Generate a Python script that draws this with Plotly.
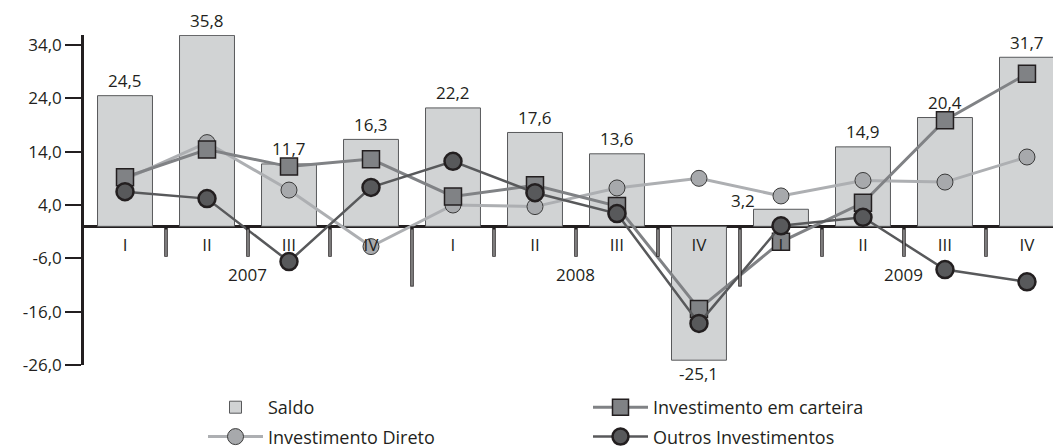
import plotly.graph_objects as go

# ---- data ----
quarters = ["I", "II", "III", "IV", "I", "II", "III", "IV", "I", "II", "III", "IV"]
years = ["2007", "2008", "2009"]
saldo = [24.5, 35.8, 11.7, 16.3, 22.2, 17.6, 13.6, -25.1, 3.2, 14.9, 20.4, 31.7]
inv_direto = [8.8, 15.7, 6.8, -3.8, 4.0, 3.7, 7.2, 9.0, 5.7, 8.6, 8.3, 13.0]
inv_carteira = [9.2, 14.4, 11.2, 12.6, 5.6, 7.7, 3.8, -15.5, -2.9, 4.4, 19.9, 28.6]
outros_inv = [6.5, 5.2, -6.6, 7.3, 12.2, 6.3, 2.4, -18.2, 0.1, 1.7, -8.1, -10.4]
y_tickvals = [34, 24, 14, 4, -6, -16, -26]
y_ticktext = ["34,0", "24,0", "14,0", "4,0", "-6,0", "-16,0", "-26,0"]
unit_label = "(Em US$ bilhões)"

FONT = "Open Sans, Noto Sans, sans-serif"
TXT = "#231f20"

PLOT_W, PLOT_H = 977, 330

x = list(range(len(quarters)))
fig = go.Figure()

fig.add_trace(go.Bar(
    x=x, y=saldo, name="Saldo", width=0.67,
    marker=dict(color="#d1d3d4", line=dict(color="#58595b", width=1)),
    legend="legend", legendgroup="a", showlegend=True,
))
fig.add_trace(go.Scatter(
    x=x, y=inv_direto, name="Investimento Direto", mode="lines+markers",
    line=dict(color="#adafb2", width=3),
    marker=dict(symbol="circle", size=16, color="#a7a9ac", line=dict(color="#3a3a3a", width=1)),
    legend="legend", legendgroup="b",
))
fig.add_trace(go.Scatter(
    x=x, y=inv_carteira, name="Investimento em carteira", mode="lines+markers",
    line=dict(color="#808285", width=3),
    marker=dict(symbol="square", size=17, color="#808285", line=dict(color="#231f20", width=1.5)),
    legend="legend2", legendgroup="c",
))
fig.add_trace(go.Scatter(
    x=x, y=outros_inv, name="Outros Investimentos", mode="lines+markers",
    line=dict(color="#58595b", width=2.5),
    marker=dict(symbol="circle", size=17, color="#58595b", line=dict(color="#231f20", width=2.5)),
    legend="legend2", legendgroup="d",
))

# bar value labels
for i, v in enumerate(saldo):
    txt = f"{v:.1f}".replace(".", ",")
    small = 0 < v < 5
    fig.add_annotation(
        x=i, y=v, text=txt, showarrow=False, xref="x", yref="y",
        yanchor="middle", xanchor="center",
        yshift=(9 if small else 15) if v >= 0 else -13,
        xshift=-38 if small else 0,
        font=dict(family=FONT, size=17, color=TXT),
    )

# year labels
for k, yr in enumerate(years):
    fig.add_annotation(
        x=4 * k + 1.5, y=-9.1, text=yr, showarrow=False, xref="x", yref="y",
        font=dict(family=FONT, size=17, color=TXT),
    )

# dividers
for b in range(len(quarters) - 1):
    bottom = -11.3 if (b + 1) % 4 == 0 else -5.7
    xb = b + 0.5
    fig.add_shape(type="line", x0=xb, x1=xb, y0=0, y1=bottom, xref="x", yref="y",
                  line=dict(color="#231f20", width=3.5))
    fig.add_shape(type="line", x0=xb, x1=xb, y0=-0.6, y1=bottom + 0.15, xref="x", yref="y",
                  line=dict(color="#9a9a9a", width=1.5))

fig.add_annotation(
    x=(136 - 84) / PLOT_W, y=(365 + 3) / PLOT_H, xref="paper", yref="paper", text=unit_label,
    showarrow=False, xanchor="center", yanchor="middle",
    font=dict(family=FONT, size=17, color=TXT),
)

ZERO_FRAC = 26 * (320 / 60) / PLOT_H

fig.update_layout(
    width=1053, height=440,
    margin=dict(l=76, r=0, t=27, b=83, autoexpand=False),
    paper_bgcolor="white", plot_bgcolor="white",
    font=dict(family=FONT, size=17, color=TXT),
    showlegend=True, bargap=0.2,
    xaxis=dict(
        range=[-0.5, 11.415], tickvals=x, ticktext=quarters,
        anchor="free", position=ZERO_FRAC - 6.5 / PLOT_H, showline=False, ticks="",
        showgrid=False, zeroline=False, tickfont=dict(family=FONT, size=17, color=TXT),
    ),
    yaxis=dict(
        range=[-26, 35.875], tickvals=y_tickvals, ticktext=y_ticktext,
        showline=True, linecolor="#231f20", linewidth=2.5,
        ticks="outside", ticklen=16, tickwidth=2, tickcolor="#231f20",
        showgrid=False, zeroline=True, zerolinecolor="#231f20", zerolinewidth=2.5,
        tickfont=dict(family=FONT, size=17, color=TXT),
    ),
    legend=dict(x=119 / PLOT_W, y=-24 / PLOT_H, xanchor="left", yanchor="top",
                orientation="v", tracegroupgap=3, itemwidth=55,
                font=dict(family=FONT, size=18, color=TXT), bgcolor="rgba(0,0,0,0)"),
    legend2=dict(x=504 / PLOT_W, y=-24 / PLOT_H, xanchor="left", yanchor="top",
                 orientation="v", tracegroupgap=3, itemwidth=55,
                 font=dict(family=FONT, size=18, color=TXT), bgcolor="rgba(0,0,0,0)"),
)

fig.write_html("out.html")
